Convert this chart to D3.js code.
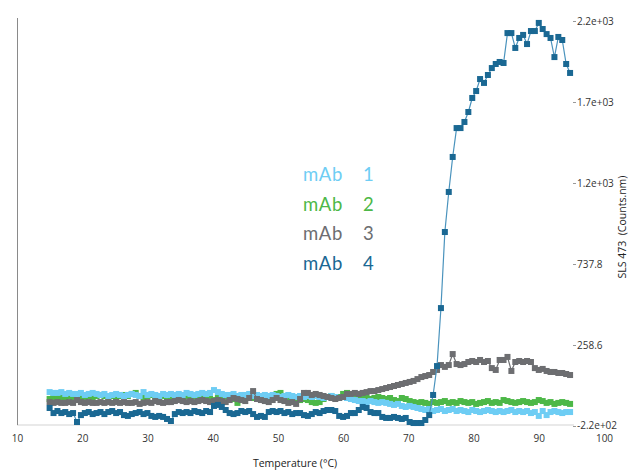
<!DOCTYPE html>
<html lang="en">
<head>
<meta charset="utf-8">
<script src="https://d3js.org/d3.v7.min.js"></script>
<style>
    body { margin: 0; background: #fff; }
    .axis text { font-family: "Open Sans", sans-serif; font-size: 10px; fill: #333; }
    .axis line { stroke: #999; }
    .title { font-family: "Open Sans", sans-serif; font-size: 10.5px; fill: #222; }
    .legend text { font-family: Lato, sans-serif; font-size: 18.5px; font-weight: 400; letter-spacing: 0.6px; }
</style>
<title>SLS 473</title>
</head>
<body>
<div id="chart"></div>
<script>
// temperature of each reading (°C)
var temps = [
    15.0, 15.6, 16.2, 16.8, 17.4, 18.0, 18.6, 19.2, 19.8, 20.4,
    21.0, 21.6, 22.2, 22.8, 23.4, 24.0, 24.6, 25.2, 25.8, 26.4,
    27.0, 27.6, 28.2, 28.8, 29.4, 30.0, 30.6, 31.2, 31.8, 32.4,
    33.0, 33.6, 34.2, 34.8, 35.4, 36.0, 36.6, 37.2, 37.8, 38.4,
    39.0, 39.6, 40.2, 40.8, 41.4, 42.0, 42.6, 43.2, 43.8, 44.4,
    45.0, 45.6, 46.2, 46.8, 47.4, 48.0, 48.6, 49.2, 49.8, 50.4,
    51.0, 51.6, 52.2, 52.8, 53.4, 54.0, 54.6, 55.2, 55.8, 56.4,
    57.0, 57.6, 58.2, 58.8, 59.4, 60.0, 60.6, 61.2, 61.8, 62.4,
    63.0, 63.6, 64.2, 64.8, 65.4, 66.0, 66.6, 67.2, 67.8, 68.4,
    69.0, 69.6, 70.2, 70.8, 71.4, 72.0, 72.6, 73.2, 73.8, 74.4,
    75.0, 75.6, 76.2, 76.8, 77.4, 78.0, 78.6, 79.2, 79.8, 80.4,
    81.0, 81.6, 82.2, 82.8, 83.4, 84.0, 84.6, 85.2, 85.8, 86.4,
    87.0, 87.6, 88.2, 88.8, 89.4, 90.0, 90.6, 91.2, 91.8, 92.4,
    93.0, 93.6, 94.2, 94.8
];

// SLS 473 (Counts.nm)
var mab1 = [
    -20, -25, -25, -20, -31, -25, -31, -31, -25, -37,
    -31, -25, -31, -37, -31, -43, -37, -31, -37, -43,
    -37, -31, -37, -43, -20, -37, -31, -37, -43, -31,
    -37, -31, -37, -31, -37, -25, -31, -37, -31, -25,
    -31, -25, -8, -20, -31, -37, -37, -31, -43, -37,
    -37, -31, -43, -37, -43, -37, -43, -37, -43, -49,
    -43, -37, -43, -49, -43, -49, -43, -49, -43, -49,
    -55, -49, -43, -49, -55, -49, -55, -61, -67, -73,
    -73, -79, -73, -79, -84, -79, -84, -90, -96, -90,
    -102, -108, -102, -108, -114, -120, -126, -120, -132, -126,
    -120, -132, -126, -120, -132, -126, -132, -138, -126, -132,
    -138, -132, -126, -132, -138, -132, -138, -132, -126, -138,
    -132, -138, -132, -144, -138, -161, -132, -156, -138, -132,
    -138, -144, -138, -138
];
var mab2 = [
    -61, -55, -49, -55, -49, -43, -55, -67, -55, -49,
    -43, -49, -43, -37, -43, -49, -43, -49, -43, -37,
    -43, -31, -25, -43, -49, -43, -37, -49, -55, -43,
    -73, -67, -49, -43, -49, -43, -49, -43, -49, -55,
    -49, -61, -67, -55, -49, -43, -55, -61, -84, -67,
    -55, -49, -55, -43, -49, -55, -61, -49, -31, -25,
    -43, -49, -55, -61, -67, -61, -67, -79, -84, -79,
    -61, -49, -43, -55, -49, -31, -25, -37, -49, -55,
    -49, -55, -61, -55, -49, -55, -61, -55, -67, -73,
    -55, -61, -73, -79, -84, -79, -84, -90, -79, -84,
    -79, -73, -84, -79, -84, -73, -79, -84, -79, -90,
    -84, -79, -73, -84, -79, -84, -67, -73, -79, -84,
    -79, -73, -79, -84, -79, -67, -73, -84, -79, -90,
    -84, -79, -84, -90
];
var mab3 = [
    -79, -84, -79, -84, -84, -79, -84, -67, -79, -84,
    -79, -84, -84, -79, -84, -79, -84, -79, -84, -79,
    -84, -84, -79, -90, -84, -79, -84, -73, -79, -84,
    -79, -79, -73, -67, -73, -79, -73, -79, -73, -67,
    -73, -79, -73, -67, -73, -79, -67, -55, -61, -67,
    -73, -55, -14, -61, -67, -73, -79, -67, -55, -67,
    -73, -84, -79, -90, -61, -25, -25, -37, -31, -37,
    -43, -49, -55, -61, -55, -49, -31, -31, -25, -31,
    -25, -20, -14, -14, -8, -2, 4, 10, 16, 22,
    28, 34, 40, 46, 57, 69, 75, 81, 99, 111,
    140, 129, 140, 205, 146, 140, 146, 158, 164, 158,
    170, 158, 164, 122, 111, 170, 170, 188, 105, 158,
    164, 158, 164, 158, 122, 111, 117, 105, 99, 99,
    93, 93, 87, 81
];
var mab4 = [
    -114, -144, -132, -144, -138, -150, -144, -197, -156, -144,
    -138, -150, -144, -138, -150, -138, -132, -144, -138, -156,
    -161, -150, -144, -138, -150, -144, -161, -167, -161, -167,
    -179, -191, -150, -138, -144, -138, -144, -132, -138, -144,
    -132, -138, -102, -96, -108, -126, -144, -150, -144, -132,
    -138, -132, -150, -167, -161, -167, -138, -132, -138, -132,
    -144, -138, -150, -144, -144, -156, -161, -150, -138, -144,
    -132, -126, -126, -132, -161, -167, -161, -144, -144, -126,
    -108, -114, -138, -144, -144, -167, -173, -173, -167, -173,
    -179, -173, -197, -203, -203, -203, -185, -156, -37, 134,
    477, 927, 1164, 1371, 1542, 1542, 1578, 1637, 1720, 1761,
    1832, 1809, 1856, 1897, 1921, 1933, 1927, 2104, 2104, 2016,
    2075, 2093, 2039, 2116, 2116, 2164, 2128, 2098, 2075, 1962,
    2081, 2063, 1921, 1868
];

var seriesNames = ["mAb 1", "mAb 2", "mAb 3", "mAb 4"];
var xTicks = [10, 20, 30, 40, 50, 60, 70, 80, 90, 100];
var yTickValues = [-220.6, 258.6, 737.8, 1217.0, 1696.2, 2175.4];
var yTickLabels = ["-2.2e+02", "258.6", "737.8", "1.2e+03", "1.7e+03", "2.2e+03"];

var series = [
    {name: seriesNames[0], values: mab1, fill: "#6ecdf4", stroke: "#6ecdf4"},
    {name: seriesNames[1], values: mab2, fill: "#4db848", stroke: "#4db848"},
    {name: seriesNames[2], values: mab3, fill: "#6d6e71", stroke: "#6d6e71"},
    {name: seriesNames[3], values: mab4, fill: "#1a6893", stroke: "#4a93bd"}
];
var drawOrder = [1, 0, 2, 3];

var width = 641, height = 470;
var plotLeft = 17, plotRight = 574, plotTop = 18, plotBottom = 425;

var svg = d3.select("#chart")
    .append("svg")
        .attr("width", width)
        .attr("height", height);

var x = d3.scaleLinear()
    .domain([10, 100])
    .range([17, 604]);

var y = d3.scaleLinear()
    .domain([-220.6, 2175.4])
    .range([426, 21]);

// frame lines
svg.append("line")
    .attr("x1", plotLeft).attr("x2", plotRight)
    .attr("y1", plotBottom).attr("y2", plotBottom)
    .attr("stroke", "#e2e2e2").attr("stroke-width", 1.5);

svg.append("line")
    .attr("x1", plotLeft + 0.5).attr("x2", plotLeft + 0.5)
    .attr("y1", plotTop).attr("y2", plotBottom)
    .attr("stroke", "#8a8a8a").attr("stroke-width", 1);

// axes
var xAxis = svg.append("g")
    .attr("class", "axis")
    .attr("transform", "translate(0," + 427 + ")")
    .call(d3.axisBottom(x).tickValues(xTicks).tickSize(0).tickPadding(8));
xAxis.select(".domain").remove();

var yAxis = svg.append("g")
    .attr("class", "axis")
    .attr("transform", "translate(" + 573 + ",0)")
    .call(d3.axisRight(y)
        .tickValues(yTickValues)
        .tickFormat(function(d, i) { return yTickLabels[i]; })
        .tickSize(3)
        .tickPadding(1));
yAxis.select(".domain").remove();
// bottom label sits a touch higher so it clears the "100"
yAxis.selectAll(".tick text")
    .filter(function(d, i) { return i === 0; })
    .attr("dy", "0.2em");

svg.append("text")
    .attr("class", "title")
    .attr("x", 295)
    .attr("y", 467)
    .attr("text-anchor", "middle")
    .text("Temperature (°C)");

svg.append("text")
    .attr("class", "title")
    .attr("transform", "translate(626,227) rotate(-90)")
    .attr("text-anchor", "middle")
    .style("white-space", "pre")
    .text("SLS 473  (Counts.nm)");

// series
var valueline = d3.line()
    .x(function(d, i) { return x(temps[i]); })
    .y(function(d) { return y(d); });

drawOrder.forEach(function(k) {
    var s = series[k];
    var g = svg.append("g");
    g.append("path")
        .datum(s.values)
        .attr("fill", "none")
        .attr("stroke", s.stroke)
        .attr("stroke-width", 1.2)
        .attr("d", valueline);
    g.selectAll("rect")
        .data(s.values)
        .enter()
        .append("rect")
            .attr("x", function(d, i) { return x(temps[i]) - 3; })
            .attr("y", function(d) { return y(d) - 3; })
            .attr("width", 6)
            .attr("height", 6)
            .attr("fill", s.fill);
});

// legend
var legend = svg.append("g").attr("class", "legend");
series.forEach(function(s, i) {
    var parts = s.name.split(" ");
    var t = legend.append("text")
        .attr("y", 181 + i * 29.5)
        .attr("fill", s.fill);
    t.append("tspan").attr("x", 303).text(parts[0]);
    t.append("tspan").attr("x", 363).text(parts[1]);
});
</script>
</body>
</html>
